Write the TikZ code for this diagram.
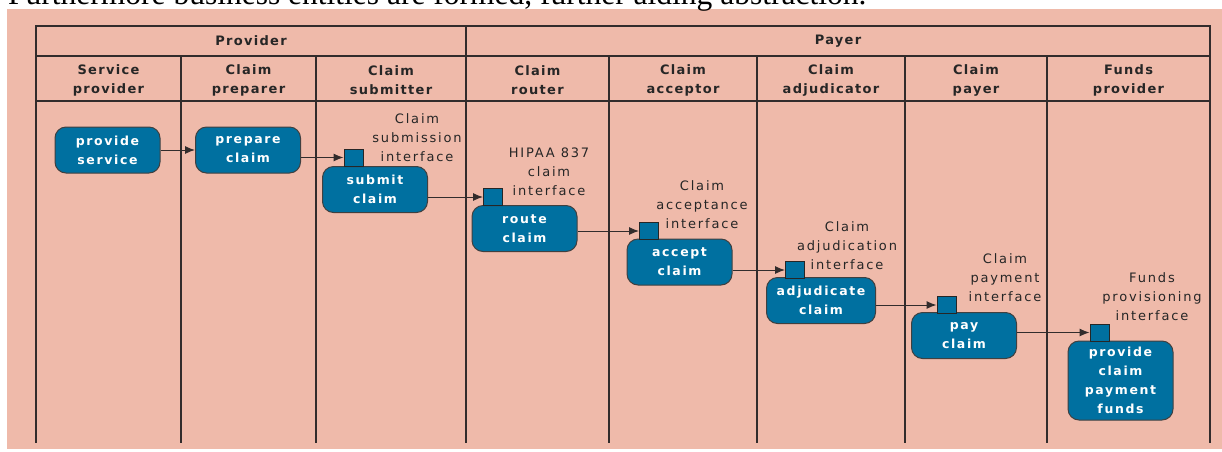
\documentclass[tikz,border=0pt]{standalone}
\usepackage{fontspec}
\setmainfont{Liberation Serif}
\newfontfamily\notefont[LetterSpace=14]{DejaVu Sans}
\newfontfamily\taskfont[LetterSpace=13]{DejaVu Sans}
\newfontfamily\headfont[LetterSpace=10]{DejaVu Sans}
\usepackage{tikz}
\usetikzlibrary{shapes, arrows, arrows.meta, calc, fit}
\definecolor{lanepink}{RGB}{239,186,170}
\definecolor{taskblue}{RGB}{0,112,160}
\definecolor{laneline}{RGB}{50,44,44}
\tikzstyle{task} = [rectangle, rounded corners=11pt, draw=black!75, line width=1pt,
    fill=taskblue, text=white, font=\taskfont\bfseries\fontsize{12.5}{19}\selectfont,
    align=center, minimum width=105pt, minimum height=46pt, inner sep=0pt]
\tikzstyle{port} = [rectangle, draw=black!85, line width=1pt, fill=taskblue,
    minimum width=19pt, minimum height=17pt, inner sep=0pt]
\tikzstyle{note} = [font=\notefont\fontsize{13}{19}\selectfont, text=black!85,
    align=center, inner sep=0pt]
\tikzstyle{head} = [font=\headfont\bfseries\fontsize{13}{19}\selectfont, text=black!85,
    align=center, inner sep=0pt]
\tikzstyle{lane} = [draw=laneline, line width=1.4pt]
\tikzstyle{line} = [draw=laneline, -{Latex[length=10pt, width=8pt]}, line width=1pt]

\begin{document}
\begin{tikzpicture}[x=1pt, y=-1pt]
    \clip (0,0) rectangle (1222,451);
    \fill [lanepink] (7,9) rectangle (1222,449);
    \node [anchor=base west, inner sep=0pt, font=\fontsize{31.5}{33}\selectfont] (caption) at (8,4)
        {Furthermore business entities are formed, further aiding abstraction.};
    % Lanes
    \draw [lane] (36,26) rectangle (1210,56);
    \draw [lane] (466,26) -- (466,56);
    \draw [lane] (36,101) -- (1210,101);
    \foreach \x in {36,181,316,466,609,757,905,1047,1210}
        \draw [lane] (\x,56) -- (\x,443);
    % Headers
    \node [head] (provider) at (251,41) {Provider};
    \node [head] (payer) at (838,41) {Payer};
    \node [head] (hservice) at (108.5,80) {Service\\provider};
    \node [head] (hpreparer) at (248.5,80) {Claim\\preparer};
    \node [head] (hsubmitter) at (391,80) {Claim\\submitter};
    \node [head] (hrouter) at (537.5,80) {Claim\\router};
    \node [head] (hacceptor) at (683,80) {Claim\\acceptor};
    \node [head] (hadjudicator) at (831,80) {Claim\\adjudicator};
    \node [head] (hpayer) at (976,80) {Claim\\payer};
    \node [head] (hfunds) at (1128.5,80) {Funds\\provider};
    % Nodes
    \node [task] (service) at (107.5,150) {provide\\service};
    \node [task] (prepare) at (248,150) {prepare\\claim};
    \node [task] (submit) at (375,189.5) {submit\\claim};
    \node [task] (route) at (524.5,228.5) {route\\claim};
    \node [task] (accept) at (679.5,262) {accept\\claim};
    \node [task, minimum width=109pt] (adjudicate) at (821,300.5) {adjudicate\\claim};
    \node [task] (pay) at (964,335.5) {pay\\claim};
    \node [task, minimum height=79pt] (funds) at (1120.5,380.5) {provide\\claim\\payment\\funds};
    % Ports
    \node [port] (subport) at (353.5,157.5) {};
    \node [port] (routeport) at (493,197) {};
    \node [port] (acceptport) at (649,231) {};
    \node [port] (adjport) at (795,270) {};
    \node [port] (payport) at (946.5,305) {};
    \node [port] (fundsport) at (1099.5,332.5) {};
    % Interface labels
    \node [note] (sublabel) at (417,138) {Claim\\submission\\interface};
    \node [note] (hipaalabel) at (549,171.5) {HIPAA 837\\claim\\interface};
    \node [note] (acceptlabel) at (702,205) {Claim\\acceptance\\interface};
    \node [note] (adjlabel) at (847,246) {Claim\\adjudication\\interface};
    \node [note] (paylabel) at (1005,278) {Claim\\payment\\interface};
    \node [note] (fundslabel) at (1152,297) {Funds\\provisioning\\interface};
    % Edges
    \path [line] (service) -- (prepare);
    \path [line] (prepare.east |- subport) -- (subport);
    \path [line] (submit.east |- routeport) -- (routeport);
    \path [line] (route.east |- acceptport) -- (acceptport);
    \path [line] (accept.east |- adjport) -- (adjport);
    \path [line] (adjudicate.east |- payport) -- (payport);
    \path [line] (pay.east |- fundsport) -- (fundsport);
\end{tikzpicture}
\end{document}
